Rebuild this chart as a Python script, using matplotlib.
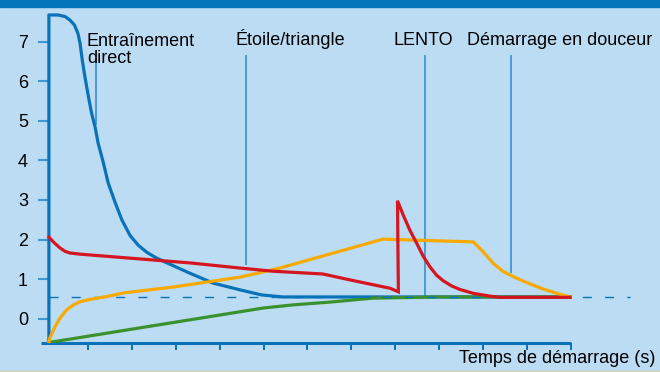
import matplotlib
matplotlib.use("Agg")
import matplotlib.pyplot as plt
from matplotlib.patches import Rectangle

# ==========================================
# 1. DATA
# ==========================================
# time axis: ticks 1..12, curves start at t0
t0 = 0.11

direct_t = [t0, t0, 0.32, 0.48, 0.59, 0.69, 0.77, 0.82, 0.87, 0.93, 1.01, 1.08,
            1.16, 1.23, 1.35, 1.46, 1.62, 1.77, 1.96, 2.15, 2.35, 2.55, 2.80,
            3.32, 3.85, 4.46, 4.96, 5.44, 11.98]
direct_i = [-0.6, 7.67, 7.67, 7.63, 7.54, 7.42, 7.21, 6.95, 6.53, 6.11, 5.61, 5.20,
            4.85, 4.44, 3.94, 3.43, 2.93, 2.50, 2.10, 1.85, 1.67, 1.54, 1.41,
            1.15, 0.90, 0.73, 0.60, 0.55, 0.55]

star_t = [t0, 0.23, 0.36, 0.48, 0.59, 0.82, 1.05, 2.18, 3.32, 4.46, 5.21, 6.35,
          6.97, 7.88, 8.07, 8.05, 8.18, 8.33, 8.49, 8.64, 8.79, 8.94, 9.09,
          9.28, 9.47, 9.78, 10.16, 10.38, 11.98]
star_i = [2.06, 1.92, 1.79, 1.70, 1.66, 1.63, 1.61, 1.51, 1.41, 1.28, 1.20, 1.13,
          0.98, 0.77, 0.68, 2.98, 2.62, 2.24, 1.90, 1.57, 1.31, 1.10, 0.96,
          0.83, 0.74, 0.64, 0.57, 0.54, 0.54]

soft_t = [t0, 0.13, 0.25, 0.36, 0.51, 0.67, 0.82, 1.05, 1.43, 1.80, 2.94, 4.46,
          5.37, 7.72, 9.78, 10.00, 10.23, 10.46, 10.77, 11.07, 11.37, 11.68, 11.98]
soft_i = [-0.6, -0.49, -0.20, 0.01, 0.22, 0.35, 0.43, 0.49, 0.56, 0.65, 0.80, 1.05,
          1.28, 2.01, 1.94, 1.69, 1.40, 1.19, 1.02, 0.88, 0.75, 0.64, 0.55]

lento_t = [t0, 4.99, 5.67, 6.51, 7.49, 9.02, 11.98]
lento_i = [-0.6, 0.27, 0.35, 0.42, 0.52, 0.55, 0.55]

nominal = 0.54
y_ticks = [0, 1, 2, 3, 4, 5, 6, 7]
x_ticks = list(range(1, 13))

# annotations: label, text x, pointer x, pointer bottom
labels = ["Étoile/triangle", "LENTO", "Démarrage en douceur"]
label_x = [4.37, 7.97, 9.63]
pointer_x = [4.61, 8.68, 10.63]
pointer_bottom = [1.35, 0.57, 1.16]

# ==========================================
# 2. STYLE
# ==========================================
BG = "#bcdcf4"
BAND = "#0376bb"
BLUE = "#0a72b9"
LIGHT = "#3f97d2"
RED = "#d5151f"
ORANGE = "#f8a902"
GREEN = "#3a922f"
FONT = "Liberation Sans"
FS = 13
LW = 2.3

W, H = 660, 372
fig = plt.figure(figsize=(W / 100, H / 100), dpi=100, facecolor=BG)
fig.patches.append(Rectangle((0, 1 - 7 / H), 1, 7 / H, transform=fig.transFigure,
                             color=BAND, zorder=0))
fig.patches.append(Rectangle((0, 0), 1, 1.2 / H, transform=fig.transFigure,
                             color="#d8d2a8", zorder=0))

# axes box in pixels: left 41, right 660, top 7, bottom 342.5
ax = fig.add_axes([41 / W, 1 - 342.5 / H, (W - 41) / W, (342.5 - 7) / H])
ax.set_facecolor("none")
ax.set_xlim(-0.07, (W - 44.1) / 43.9)
ax.set_ylim(-0.6, (318.7 - 7) / 39.6)

# ==========================================
# 3. CURVES
# ==========================================
ax.hlines(nominal, t0, 13.35, colors=BLUE, linewidth=1.0,
          linestyles=(0, (6.5, 9.5)), zorder=4)
ax.plot(direct_t, direct_i, color=BLUE, lw=LW, zorder=3, solid_joinstyle="round")
ax.plot(lento_t, lento_i, color=GREEN, lw=LW, zorder=3.5, solid_joinstyle="round")
ax.plot(soft_t, soft_i, color=ORANGE, lw=LW, zorder=5, solid_joinstyle="round")
ax.plot(star_t, star_i, color=RED, lw=LW, zorder=5.5, solid_joinstyle="miter")

# pointer lines + labels
ax.vlines(1.18, 4.89, 6.58, colors=LIGHT, lw=1.3, zorder=2)
ax.text(0.977, 6.89, "Entraînement", fontsize=FS, family=FONT, va="baseline")
ax.text(0.977, 6.46, "direct", fontsize=FS, family=FONT, va="baseline")
for lab, lx, px, pb in zip(labels, label_x, pointer_x, pointer_bottom):
    ax.vlines(px, pb, 6.66, colors=LIGHT, lw=1.3, zorder=2)
    ax.text(lx, 6.91, lab, fontsize=FS, family=FONT, va="baseline")

# ==========================================
# 4. AXES
# ==========================================
for s in ["top", "right"]:
    ax.spines[s].set_visible(False)
ax.spines["left"].set_position(("data", t0))
ax.spines["left"].set_linewidth(0)
ax.spines["bottom"].set_color(BLUE)
ax.spines["bottom"].set_linewidth(2.2)
ax.spines["bottom"].set_bounds(-0.07, 12)
ax.spines["bottom"].set_capstyle("butt")

ax.set_yticks(y_ticks)
ax.set_yticklabels([str(v) for v in y_ticks], fontsize=FS, family=FONT)
ax.tick_params(axis="y", direction="out", length=8, width=1.5, color=LIGHT, pad=7)
ax.set_xticks(x_ticks)
ax.set_xticklabels([])
ax.tick_params(axis="x", direction="out", length=5, width=1.4, color=BLUE)

ax.set_xlabel("Temps de démarrage (s)", fontsize=FS, family=FONT, loc="right")
ax.xaxis.set_label_coords((655 - 41) / (W - 41), -0.022)

fig.savefig("out.png", dpi=100, facecolor=BG)
